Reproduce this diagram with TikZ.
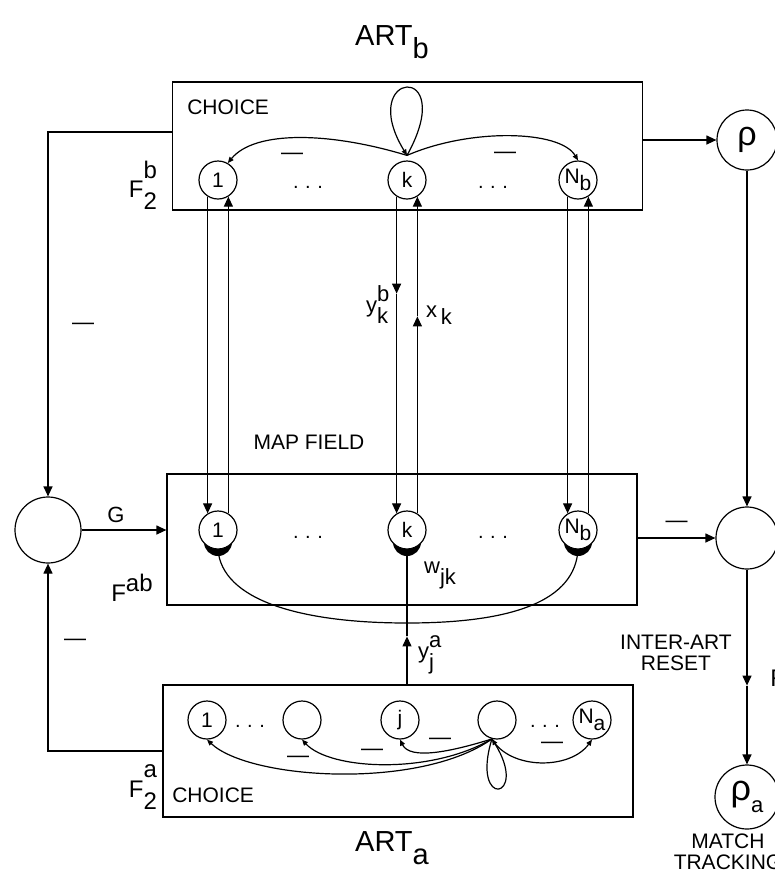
\documentclass[tikz,border=0pt]{standalone}
\usepackage{fontspec}
\setmainfont{Liberation Sans}
\usetikzlibrary{positioning,backgrounds,arrows.meta}
\newcommand{\capss}[3]{#1\rlap{\raisebox{0.8em}{#2}}\raisebox{-0.5em}{#3}}
\newcommand{\lowss}[3]{#1\rlap{\raisebox{0.5em}{#2}}\raisebox{-0.5em}{#3}}
\newcommand{\lowsub}[2]{#1\raisebox{-0.3em}{#2}}

\begin{document}
\begin{tikzpicture}[x=0.5pt,y=-0.5pt,line width=0.6pt,
  lab/.style={font=\fontsize{10.5}{10.5}\selectfont},
  sym/.style={font=\fontsize{11}{11}\selectfont},
  unit/.style={circle,draw,fill=white,minimum size=19pt,inner sep=0pt,font=\fontsize{10.5}{10.5}\selectfont},
  big/.style={circle,draw,fill=white,inner sep=0pt},
  layer/.style={draw,minimum width=235pt,inner sep=0pt},
  neg/.style={font=\fontsize{11}{11}\selectfont,inner sep=0pt},
  dots/.style={font=\fontsize{10}{10}\selectfont,inner sep=0pt},
  tip/.style={-{Triangle[length=5pt,width=4.5pt]}},
  stip/.style={-{Triangle[length=3pt,width=2.5pt]}}]
\useasboundingbox (0,0) rectangle (775,874);

% ART_b
\node[font=\fontsize{14.5}{14.5}\selectfont] (artb) at (392,42) {ART\raisebox{-0.45em}{b}};
\node[layer,minimum height=64pt] (fb) at (407.5,146) {};
\node[lab,anchor=west] (chb) at (180,107) {CHOICE};
\node[font=\fontsize{12}{12}\selectfont] (f2b) at (143,185) {\capss{F}{b}{2}};
\draw(218,180) node[unit] (b1) {1};
\draw(407,180) node[unit] (bk) {k};
\draw(578,180) node[unit] (bN) {\lowsub{N}{b}};
\node[dots] (db1) at (308,187) {.\,\,.\,\,.};
\node[dots] (db2) at (493,187) {.\,\,.\,\,.};
\coordinate (bt) at ([yshift=2.5pt]bk.north);
\draw[stip] (bt) .. controls (460,60) and (355,70) .. (bt);
\draw[stip] (bt) .. controls (330,132) and (255,130) .. (b1.60);
\draw[stip] (bt) .. controls (470,128) and (560,130) .. (bN.north);
\node[neg] (nb1) at (292,156) {—};
\node[neg] (nb2) at (505,155) {—};

% map field
\node[layer,minimum height=65.5pt] (mf) at (402,539.5) {};
\node[lab] (mfl) at (309,442) {MAP FIELD};
\node[font=\fontsize{12}{12}\selectfont] (fab) at (132,588) {F\raisebox{0.4em}{ab}};
\draw(218,530) node[unit] (m1) {1};
\draw(407,530) node[unit] (mk) {k};
\draw(578,530) node[unit] (mN) {\lowsub{N}{b}};
\node[dots] (dm1) at (308,537) {.\,\,.\,\,.};
\node[dots] (dm2) at (493,537) {.\,\,.\,\,.};
\begin{scope}[on background layer]
\fill ([yshift=-6pt]m1.center) circle (7pt);
\fill ([yshift=-6pt]mk.center) circle (7pt);
\fill ([yshift=-6pt]mN.center) circle (7pt);
\end{scope}
\node[sym] (wl) at (440,575) {w\raisebox{-0.5em}{jk}};
\coordinate (wjk) at (407,623);
\draw (m1.south) .. controls (222,600) and (300,623) .. (wjk) .. controls (515,623) and (575,600) .. (mN.south);

% b <-> map field
\draw[tip] (b1.238) -- (m1.122);
\draw[tip] (m1.58) -- (b1.302);
\draw[tip] (bN.238) -- (mN.122);
\draw[tip] (mN.58) -- (bN.302);
\draw[tip] (bk.238) -- ++(0,97) coordinate (yb);
\draw[tip] (yb) -- (mk.122);
\draw[tip] (mk.58) -- ++(0,-197) coordinate (xa);
\draw[tip] (xa) -- (bk.302);
\node[sym] (ykb) at (377,305) {\lowss{y}{b}{k}};
\node[sym] (xkl) at (439,315) {x\,\raisebox{-0.3em}{k}};

% ART_a
\node[layer,minimum height=66pt] (fa) at (398,751) {};
\node[lab,anchor=west] (cha) at (165,795) {CHOICE};
\node[font=\fontsize{12}{12}\selectfont] (f2a) at (143,787) {\capss{F}{a}{2}};
\draw(207,720) node[unit] (a1) {1};
\draw(302,720) node[unit] (a2) {};
\draw(400,720) node[unit] (aj) {j};
\draw(497,720) node[unit] (a4) {};
\draw(592,720) node[unit] (aN) {\lowsub{N}{a}};
\node[dots] (da1) at (250,726) {.\,\,.\,\,.};
\node[dots] (da2) at (545,726) {.\,\,.\,\,.};
\coordinate (as) at (a4.255);
\draw[stip] (as) .. controls (420,790) and (250,780) .. (a1.south);
\draw[stip] (as) .. controls (430,775) and (330,770) .. (a2.south);
\draw[stip] (as) .. controls (450,752) and (410,760) .. (aj.south);
\draw[stip] (as) .. controls (510,770) and (570,770) .. (aN.south);
\draw[stip] (as) .. controls (470,810) and (530,800) .. (as);
\node[neg] (na1) at (298,759) {—};
\node[neg] (na2) at (372,752) {—};
\node[neg] (na3) at (440,741) {—};
\node[neg] (na4) at (552,745) {—};
\draw[tip] (fa.north -| mk) -- ++(0,-48) coordinate (ya);
\draw (ya) -- (mk.south);
\node[sym] (yja) at (426,655) {\lowss{y}{a}{j}};
\node[font=\fontsize{14.5}{14.5}\selectfont] (arta) at (392,848) {ART\raisebox{-0.45em}{a}};

% G
\draw(48,530) node[big,minimum size=33pt] (g) {};
\draw[tip] (g) -- (g -| mf.west) node[midway,above,sym,xshift=-4pt] {G};
\draw[tip] ([yshift=7pt]fb.west) -| (g);
\node[neg] (ng1) at (83,326) {—};
\draw[tip] (fa.west) -| (g);
\node[neg] (ng2) at (75,642) {—};

% reset / match tracking
\draw(747,140) node[big,minimum size=30pt,font=\fontsize{17}{17}\selectfont] (rhob) {ρ};
\draw[tip] (fb.east |- rhob) -- (rhob);
\draw(747,538) node[big,minimum size=31pt] (rst) {};
\draw[tip] (rhob) -- (rst);
\draw[tip] (mf.east |- rst) -- (rst) node[midway,above=5pt,neg] {—};
\node[lab,align=center] (ial) at (676,653) {INTER-ART\\RESET};
\draw(747,797) node[big,minimum size=32pt,font=\fontsize{18}{18}\selectfont] (rhoa) {ρ\raisebox{-0.35em}{\fontsize{11}{11}\selectfont a}};
\draw[tip] (rst.south) -- ++(0,116) coordinate (rr);
\node[font=\fontsize{12}{12}\selectfont,anchor=west] (rl) at (763,678) {R};
\draw[tip] (rr) -- (rhoa);
\node[lab,align=center] (mtl) at (728,852) {MATCH\\TRACKING};
\end{tikzpicture}
\end{document}
